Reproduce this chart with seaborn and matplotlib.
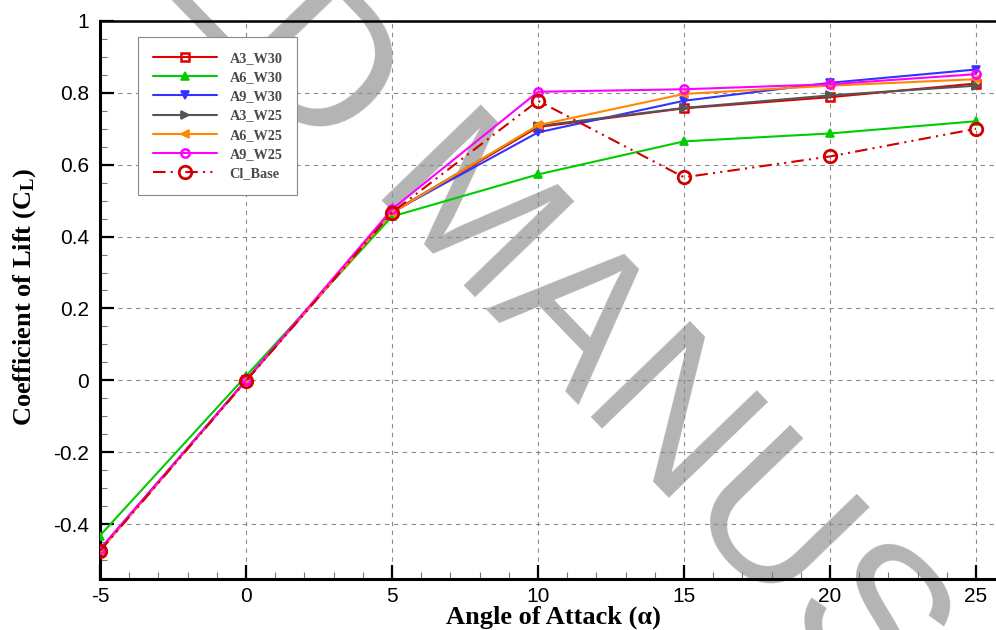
import matplotlib
matplotlib.use("Agg")
import matplotlib.pyplot as plt
import seaborn as sns
import pandas as pd
import numpy as np
from matplotlib.ticker import MultipleLocator

# ---------------- data ----------------
angles = [-5, 0, 5, 10, 15, 20, 25]
A3_W30 = [-0.473, 0.000, 0.466, 0.705, 0.757, 0.788, 0.826]
A6_W30 = [-0.432, 0.012, 0.456, 0.573, 0.665, 0.687, 0.721]
A9_W30 = [-0.470, 0.000, 0.468, 0.690, 0.778, 0.828, 0.865]
A3_W25 = [-0.472, 0.000, 0.468, 0.708, 0.758, 0.793, 0.820]
A6_W25 = [-0.474, 0.000, 0.466, 0.710, 0.797, 0.820, 0.838]
A9_W25 = [-0.470, 0.000, 0.476, 0.803, 0.810, 0.824, 0.852]
Cl_Base = [-0.475, -0.002, 0.467, 0.778, 0.565, 0.623, 0.700]
series_names = ["A3_W30", "A6_W30", "A9_W30", "A3_W25", "A6_W25", "A9_W25", "Cl_Base"]
series_vals = [A3_W30, A6_W30, A9_W30, A3_W25, A6_W25, A9_W25, Cl_Base]
x_ticks = [-5, 0, 5, 10, 15, 20, 25]
y_ticks = [-0.4, -0.2, 0, 0.2, 0.4, 0.6, 0.8, 1]
y_ticklabels = ["-0.4", "-0.2", "0", "0.2", "0.4", "0.6", "0.8", "1"]

sns.set_theme(style="white")
plt.rcParams["font.family"] = ["Liberation Sans", "DejaVu Sans"]
plt.rcParams["mathtext.fontset"] = "custom"
plt.rcParams["mathtext.rm"] = "Liberation Serif:bold"
plt.rcParams["mathtext.bf"] = "Liberation Serif:bold"
plt.rcParams["mathtext.it"] = "Liberation Serif:bold"

styles = {
    "A3_W30": dict(color="#e00000", marker="s", mfc="none", ms=5.5, mew=1.8, ls="-"),
    "A6_W30": dict(color="#00cc00", marker="^", mfc="#00cc00", ms=6, mew=1.2, ls="-"),
    "A9_W30": dict(color="#3333ff", marker="v", mfc="#3333ff", ms=6, mew=1.2, ls="-"),
    "A3_W25": dict(color="#555555", marker=">", mfc="#555555", ms=6, mew=1.2, ls="-"),
    "A6_W25": dict(color="#ff8800", marker="<", mfc="#ff8800", ms=6, mew=1.2, ls="-"),
    "A9_W25": dict(color="#ff00ff", marker="o", mfc="none", ms=6, mew=1.8, ls="-"),
    "Cl_Base": dict(color="#d00000", marker="o", mfc="none", ms=9, mew=2.0,
                    ls=(0, (6, 2.5, 1, 2.5, 1, 2.5))),
}

fig = plt.figure(figsize=(9.96, 6.3), dpi=100)
ax = fig.add_axes([100 / 996, 51 / 630, 905.2 / 996, 558 / 630])
ax.patch.set_alpha(0)

# watermark (behind the axes)
ang = -46
wx, wy = 364 / 996, 1 - 200 / 630
fig.text(wx, wy, "MANUSCRIPT", rotation=ang, rotation_mode="anchor",
         ha="left", va="baseline", fontsize=145, color="#b4b4b4",
         family="Liberation Sans", zorder=-1)
fig.text(wx, wy, "ACCEPTED ", rotation=ang, rotation_mode="anchor",
         ha="right", va="baseline", fontsize=145, color="#b4b4b4",
         family="Liberation Sans", zorder=-1)

for name, vals in zip(series_names, series_vals):
    df = pd.DataFrame({"angle": angles, "cl": vals})
    st = styles[name]
    sns.lineplot(data=df, x="angle", y="cl", ax=ax, label=name, color=st["color"],
                 marker=st["marker"], markerfacecolor=st["mfc"], markeredgecolor=st["color"],
                 markersize=st["ms"], markeredgewidth=st["mew"], linestyle=st["ls"],
                 linewidth=1.5, zorder=3)

ax.set_xlim(-5, 26)
ax.set_ylim(-0.553, 1.0)
ax.set_xticks(x_ticks)
ax.set_yticks(y_ticks)
ax.set_xticklabels([str(t) for t in x_ticks])
ax.set_yticklabels(y_ticklabels)
ax.xaxis.set_minor_locator(MultipleLocator(1))
ax.yaxis.set_minor_locator(MultipleLocator(0.05))

ax.grid(True, which="major", color="#8c8c8c", linestyle=(0, (4, 4)), linewidth=0.8)
ax.tick_params(which="major", direction="in", length=10, width=1.6, color="black",
               labelsize=15, labelcolor="black", bottom=True, left=True, top=False, right=False)
ax.tick_params(axis="y", which="major", pad=8)
ax.tick_params(axis="x", which="major", pad=6)
ax.tick_params(which="minor", direction="in", length=5, width=0.8, color="#777777",
               bottom=True, left=True, top=False, right=False)

for side in ["left", "bottom", "top", "right"]:
    ax.spines[side].set_visible(True)
    ax.spines[side].set_color("black")
ax.spines["left"].set_linewidth(2.2)
ax.spines["bottom"].set_linewidth(2.2)
ax.spines["top"].set_linewidth(1.8)

ax.set_xlabel("Angle of Attack (α)", fontsize=19, fontweight="bold",
              family="Liberation Serif", color="black")
ax.set_ylabel(r"Coefficient of Lift (C$_\mathbf{L}$)", fontsize=19, fontweight="bold",
              family="Liberation Serif", color="black")
ax.xaxis.set_label_coords(0.5004, -0.048)
ax.yaxis.set_label_coords(-0.0685, 0.5045)

leg = ax.legend(loc="upper left", bbox_to_anchor=(0.042, 0.9713), borderaxespad=0,
                frameon=True, fancybox=False, edgecolor="#888888", framealpha=1,
                handlelength=4.5, handletextpad=0.84, labelspacing=0.43,
                borderpad=1.05, prop={"family": "Liberation Serif", "weight": "bold", "size": 10.3})
leg.get_frame().set_linewidth(0.8)
for t in leg.get_texts():
    t.set_color("#4a4a4a")

fig.savefig("out.png", dpi=100)
